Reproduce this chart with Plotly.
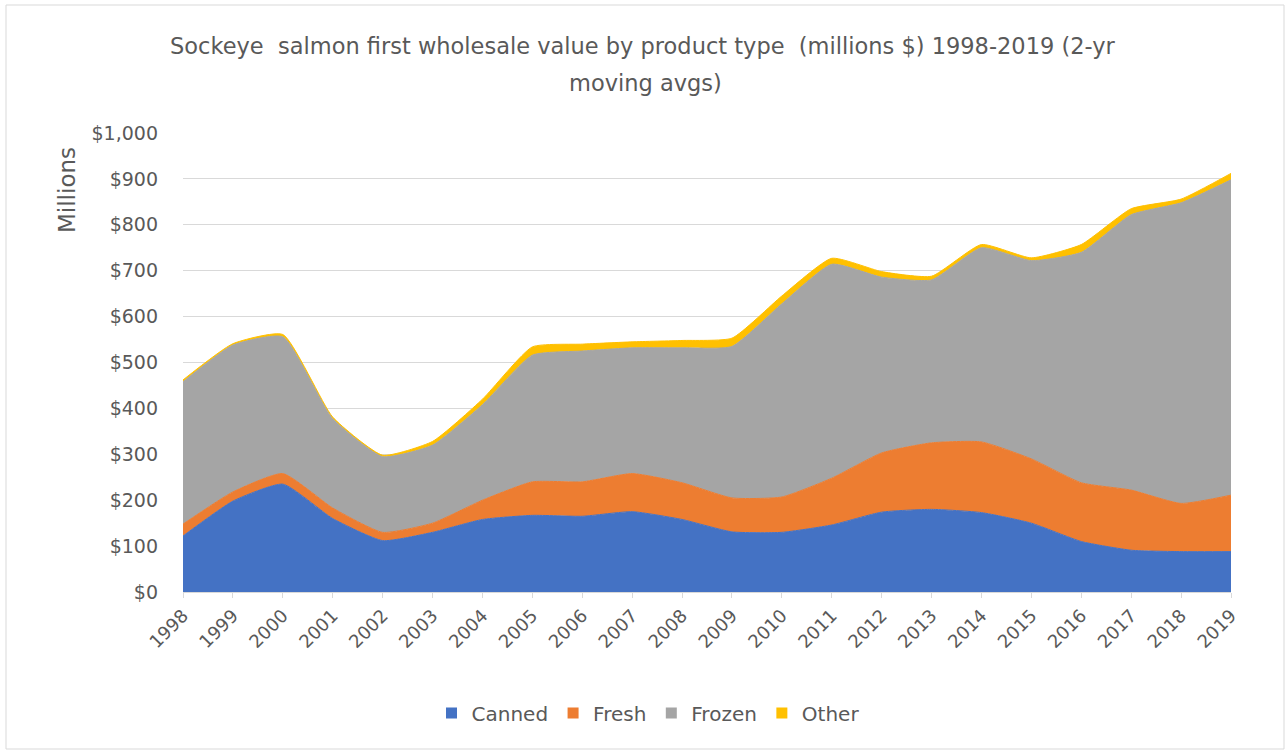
import plotly.graph_objects as go

years = list(range(1998, 2020))
canned = [122, 198, 235, 160, 112, 130, 158, 167, 165, 175, 158, 131, 130, 146, 174, 180, 173, 150, 110, 91, 88, 88]
fresh = [26, 20, 23, 23, 18, 20, 42, 73, 75, 83, 80, 74, 77, 102, 129, 145, 154, 140, 128, 131, 105, 123]
frozen = [310, 320, 298, 195, 165, 170, 208, 276, 285, 274, 294, 330, 421, 466, 383, 355, 423, 432, 502, 600, 655, 687]
other = [4, 3, 5, 3, 3, 8, 12, 18, 15, 13, 16, 18, 17, 13, 12, 8, 7, 6, 17, 13, 8, 14]
tick_vals = [0, 100, 200, 300, 400, 500, 600, 700, 800, 900, 1000]
tick_text = ["$0", "$100", "$200", "$300", "$400", "$500", "$600", "$700", "$800", "$900", "$1,000"]

series = [("Canned", canned, "#4472C4"), ("Fresh", fresh, "#ED7D31"),
          ("Frozen", frozen, "#A5A5A5"), ("Other", other, "#FFC000")]

FONT = "DejaVu Sans, sans-serif"
TXT = "#595959"

fig = go.Figure()
for name, vals, col in series:
    fig.add_trace(go.Scatter(
        x=years, y=vals, name=name, mode="lines", stackgroup="one",
        line=dict(color=col, width=1, shape="spline", smoothing=0.5),
        fillcolor=col, showlegend=False,
    ))
# legend entries with small square swatches (Excel style)
for name, vals, col in series:
    fig.add_trace(go.Scatter(
        x=[None], y=[None], name=name, mode="markers",
        marker=dict(symbol="square", size=11, color=col), showlegend=True,
    ))

W, H = 1286, 753
L, R, T, B = 183, 1231, 133, 592
pw, ph = R - L, B - T

def px(x):
    return (x - L) / pw

def py(y):
    return (B - y) / ph

fig.update_layout(
    width=W, height=H,
    margin=dict(l=L, r=W - R, t=T, b=H - B, pad=0),
    paper_bgcolor="white", plot_bgcolor="white",
    font=dict(family=FONT, color=TXT, size=18),
    showlegend=True,
    legend=dict(orientation="h", x=px(648), y=py(713), xanchor="center", yanchor="middle",
                font=dict(size=20, color=TXT), traceorder="normal",
                itemwidth=30, bgcolor="rgba(0,0,0,0)"),
    xaxis=dict(range=[1998, 2019], tickmode="array", tickvals=years,
               ticktext=[str(y) for y in years], tickangle=-45,
               showgrid=False, showline=True, linecolor="#D9D9D9", linewidth=1,
               ticks="outside", ticklen=5, tickcolor="#D9D9D9",
               tickfont=dict(size=18, color=TXT), zeroline=False),
    yaxis=dict(range=[0, 1000], tickmode="array", tickvals=tick_vals, ticktext=tick_text,
               showgrid=True, gridcolor="#D9D9D9", gridwidth=1, zeroline=False,
               showline=False, ticks="", ticklabelstandoff=24,
               tickfont=dict(size=19, color=TXT)),
    annotations=[
        dict(text="Sockeye  salmon first wholesale value by product type  (millions $) 1998-2019 (2-yr",
             xref="paper", yref="paper", x=px(643), y=py(46), xanchor="center", yanchor="middle",
             showarrow=False, font=dict(size=22.5, color=TXT, family=FONT)),
        dict(text="moving avgs)",
             xref="paper", yref="paper", x=px(645), y=py(83), xanchor="center", yanchor="middle",
             showarrow=False, font=dict(size=22.5, color=TXT, family=FONT)),
        dict(text="Millions", textangle=-90,
             xref="paper", yref="paper", x=px(67), y=py(190), xanchor="center", yanchor="middle",
             showarrow=False, font=dict(size=23, color=TXT, family=FONT)),
    ],
    shapes=[dict(type="rect", xref="paper", yref="paper",
                 x0=px(6), x1=px(1284), y0=py(749), y1=py(5),
                 line=dict(color="#D9D9D9", width=1), fillcolor="rgba(0,0,0,0)", layer="below")],
)

fig.write_html("out.html")
